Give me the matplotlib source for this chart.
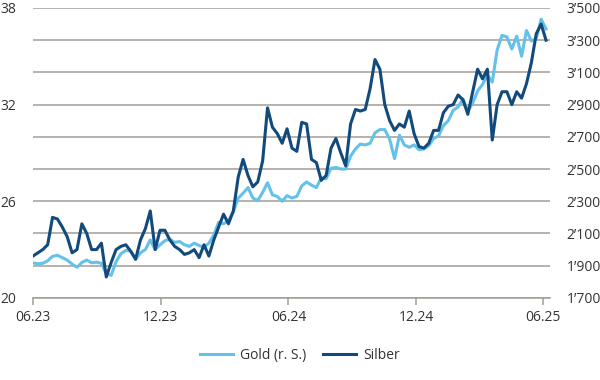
import pandas as pd
import matplotlib
matplotlib.use('Agg')
import matplotlib.pyplot as plt
import matplotlib.dates as mdates
from matplotlib.ticker import FuncFormatter

plt.rcParams['font.family'] = ['Open Sans', 'DejaVu Sans']

# weekly closes, 16.06.2023 - 20.06.2025
dates = pd.date_range('2023-06-16', periods=106, freq='7D')

silver = [22.6, 22.8, 23.0, 23.3, 25.0, 24.9, 24.4, 23.8, 22.8, 23.0,
          24.6, 24.0, 23.0, 23.0, 23.4, 21.3, 22.2, 23.0, 23.2, 23.3,
          22.9, 22.4, 23.6, 24.3, 25.4, 23.0, 24.2, 24.2, 23.6,
          23.2, 23.0, 22.7, 22.8, 23.0, 22.5, 23.3, 22.6, 23.6, 24.4,
          25.2, 24.6, 25.4, 27.5, 28.6, 27.6, 26.9, 27.2, 28.5, 31.8,
          30.6, 30.2, 29.6, 30.5, 29.3, 29.1, 30.9, 30.8, 28.6, 28.4,
          27.3, 27.6, 29.3, 29.9, 29.0, 28.2, 30.8, 31.7, 31.6, 31.7,
          33.0, 34.8, 34.2, 32.0, 31.0, 30.4, 30.8, 30.6, 31.6, 30.2,
          29.4, 29.3,
          29.6, 30.4, 30.4, 31.5, 31.9, 32.0, 32.6, 32.3, 31.4, 32.8,
          34.2, 33.6, 34.2, 29.8, 32.0, 32.8, 32.8, 32.0, 32.8, 32.4,
          33.3, 34.6, 36.4, 37.0, 36.0]

gold = [1917, 1912, 1915, 1930, 1958, 1965, 1950, 1935, 1910, 1890,
        1920, 1935, 1918, 1922, 1915, 1850, 1840, 1925, 1975, 1995,
        1990, 1940, 1980, 2000, 2060, 2000, 2030, 2055, 2065,
        2045, 2050, 2030, 2020, 2040, 2025, 2015, 2040, 2090, 2170,
        2160, 2180, 2235, 2320, 2350, 2385, 2320, 2305, 2355, 2415,
        2340, 2330, 2300, 2335, 2320, 2330, 2395, 2420, 2400, 2385,
        2445, 2440, 2505, 2510, 2500, 2500, 2580, 2625, 2655, 2650,
        2660, 2725, 2745, 2745, 2685, 2565, 2710, 2650, 2635, 2650,
        2620, 2625,
        2645, 2690, 2705, 2770, 2800, 2865, 2885, 2935, 2860, 2910,
        2985, 3025, 3085, 3040, 3240, 3330, 3320, 3245, 3325, 3200,
        3360, 3295, 3310, 3430, 3370]

x_ticks = pd.to_datetime(['2023-06-16', '2023-12-16', '2024-06-16',
                          '2024-12-16', '2025-06-16'])
x_labels = ['06.23', '12.23', '06.24', '12.24', '06.25']

gold_col = '#63c1ea'
silver_col = '#134a7c'
grid_col = '#a39d93'
text_col = '#333333'

fig, ax1 = plt.subplots(figsize=(6, 3.8), dpi=100)
fig.subplots_adjust(left=0.055, right=0.917, top=0.979, bottom=0.216)
ax2 = ax1.twinx()

ax2.plot(dates, gold, color=gold_col, linewidth=2.2, label='Gold (r. S.)')
ax1.plot(dates, silver, color=silver_col, linewidth=2.2, label='Silber')

ax1.set_zorder(ax2.get_zorder() + 1)
ax1.patch.set_visible(False)

ax1.set_ylim(20, 38)
ax1.set_yticks([20, 26, 32, 38])
ax2.set_ylim(1700, 3500)
ax2.set_yticks(range(1700, 3501, 200))
ax2.yaxis.set_major_formatter(FuncFormatter(lambda v, p: f'{int(v):,}'.replace(',', '\u2019')))
ax2.grid(axis='y', color=grid_col, linewidth=1.1)
ax2.set_axisbelow(True)

ax1.set_xlim(pd.Timestamp('2023-06-16'), pd.Timestamp('2025-06-26'))
ax1.set_xticks(x_ticks)
ax1.set_xticklabels(x_labels)

for ax in (ax1, ax2):
    for s in ['top', 'left', 'right']:
        ax.spines[s].set_visible(False)
    ax.spines['bottom'].set_color(grid_col)
    ax.spines['bottom'].set_linewidth(1.1)
ax2.spines['bottom'].set_visible(False)

ax1.tick_params(axis='y', length=0, pad=12, labelsize=10, labelcolor=text_col)
ax2.tick_params(axis='y', length=0, pad=12, labelsize=10, labelcolor=text_col)
ax1.tick_params(axis='x', length=5, width=1.1, color=grid_col, pad=4,
                labelsize=10, labelcolor=text_col)

h1, l1 = ax1.get_legend_handles_labels()
h2, l2 = ax2.get_legend_handles_labels()
leg = fig.legend(h2 + h1, l2 + l1, loc='center', bbox_to_anchor=(0.5, 0.065),
                 ncol=2, frameon=False, fontsize=10, handlelength=2.4,
                 columnspacing=1.2, handletextpad=0.5)
for t in leg.get_texts():
    t.set_color(text_col)

plt.savefig('out.png', dpi=100)
